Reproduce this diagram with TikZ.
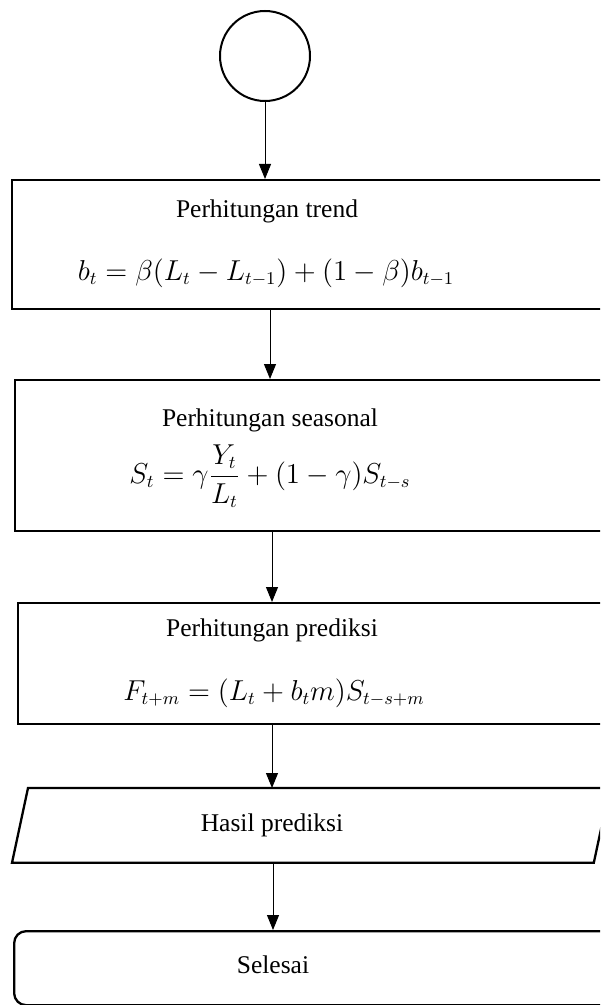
\documentclass[tikz,border=0pt]{standalone}
\usepackage{amsmath}
\usepackage{fontspec}
\setmainfont{Liberation Serif}
\usepackage{tikz}
\usetikzlibrary{arrows.meta, positioning}

\begin{document}
\begin{tikzpicture}[
    x=0.5pt, y=-0.5pt,
    font=\fontsize{12.75}{15}\selectfont,
    box/.style={draw, line width=1.15pt, anchor=north west, inner sep=0pt,
                minimum width=320pt},
    lbl/.style={inner sep=0pt},
    eq/.style={inner sep=0pt, font=\fontsize{13.4}{16}\selectfont},
    arr/.style={-{Triangle[length=7.5pt, width=6pt]}, line width=0.5pt}
]
\useasboundingbox (0,0) rectangle (600,1005);
\clip (0,0) rectangle (600,1005);

\node[draw, circle, line width=1pt, minimum size=45pt, inner sep=0pt] (start) at (265,56) {};

\node[box, minimum height=64.5pt] (b1) at (11,179) {};
\node[lbl] (t1) at (267,211) {Perhitungan trend};
\node[eq] (f1) at (266,273) {$b_t = \beta(L_t - L_{t-1}) + (1-\beta)b_{t-1}$};

\node[box, minimum height=75.5pt] (b2) at (14,379) {};
\node[lbl] (t2) at (270,420) {Perhitungan seasonal};
\node[eq] (f2) at (270,476) {$S_t = \gamma\dfrac{Y_t}{L_t} + (1-\gamma)S_{t-s}$};

\node[box, minimum height=60.5pt] (b3) at (17,602) {};
\node[lbl] (t3) at (272,630) {Perhitungan prediksi};
\node[eq] (f3) at (274,693) {$F_{t+m} = (L_t + b_t m)S_{t-s+m}$};

% output: parallelogram leaning right
\node[inner sep=0pt, anchor=north west, minimum width=290.5pt, minimum height=37pt] (out) at (12,788) {};
\draw[line width=1.15pt, line join=miter] (out.south west) -- ([xshift=8pt]out.north west)
    -- ([xshift=8pt]out.north east) -- (out.south east) -- cycle;
\node[lbl] (t4) at (272,825) {Hasil prediksi};

\node[box, rounded corners=6pt, minimum height=37pt] (end) at (13,930) {};
\node[lbl] (t5) at (273,965) {Selesai};

\draw[arr] (start) -- (start |- b1.north);
\draw[arr] (b1.south -| t2) -- (b2.north -| t2);
\draw[arr] (b2.south -| t3) -- (b3.north -| t3);
\draw[arr] (b3.south -| t4) -- (out.north -| t4);
\draw[arr] (out.south -| t5) -- (end.north -| t5);
\end{tikzpicture}
\end{document}
